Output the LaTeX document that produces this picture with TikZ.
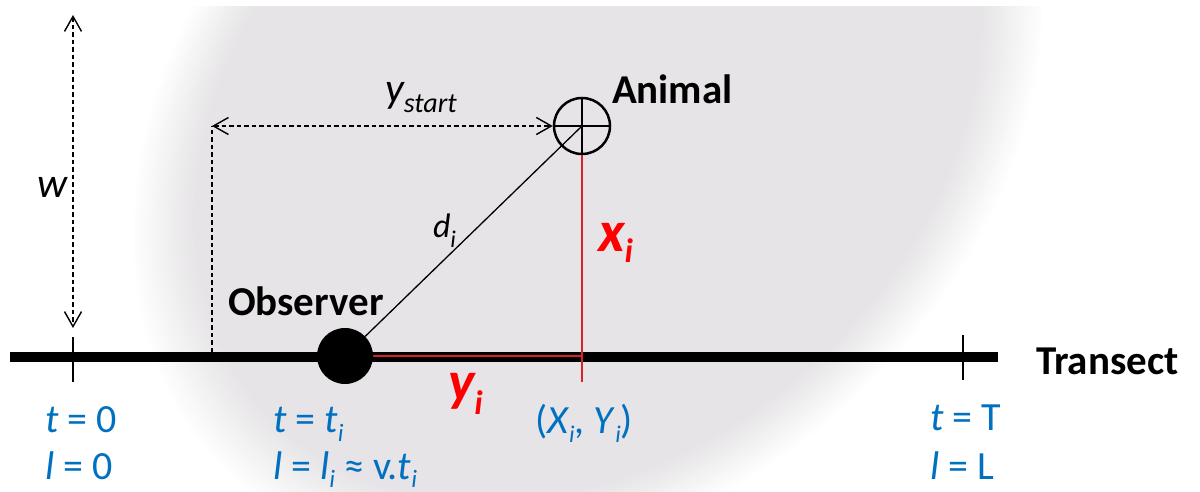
\documentclass[tikz,border=0pt]{standalone}
\usepackage{fontspec}
\setmainfont{Carlito}
\usetikzlibrary{arrows.meta}
\definecolor{gcol}{RGB}{230,228,230}
\definecolor{lblue}{RGB}{0,112,192}
\definecolor{lred}{RGB}{255,0,0}
\definecolor{rline}{RGB}{215,35,35}
\newcommand\fs[1]{\fontsize{#1}{#1}\selectfont}
\newcommand\sbx[3]{\raisebox{-#1pt}{\fs{#2}#3}}
\tikzset{
  lbl/.style={anchor=base west,inner sep=0pt,outer sep=0pt},
  bluelbl/.style={lbl,text=lblue,font=\fs{40}},
  boldlbl/.style={lbl,font=\fs{41}\bfseries},
  dashline/.style={line width=1.4pt,dash pattern=on 4.5pt off 3pt},
  barbtip/.tip={Straight Barb[length=15pt,width=17pt,line width=1.4pt]},
  tick/.style={line width=1.4pt},
}
\begin{document}
\begin{tikzpicture}[x=1pt,y=-1pt]
\useasboundingbox (0,0) rectangle (1200,492);
% gray blurred region
\begin{scope}
\clip (0,7) rectangle (1200,492);
\begin{scope}[cm={410,0,112,415,(588,118)}]
\foreach \i in {0,...,30}{
  \pgfmathsetmacro\s{1.075-0.15*\i/30}
  \pgfmathsetmacro\c{100*\i/30}
  \fill[gcol!\c!white] (0,0) circle ({\s});
}
\end{scope}
\end{scope}
% coordinates
\coordinate (tstart) at (10,357);
\coordinate (tend) at (998,357);
\coordinate (k1a) at (73,337); \coordinate (k1b) at (73,382);
\coordinate (k2a) at (963,335); \coordinate (k2b) at (963,380);
\coordinate (wtop) at (73,15); \coordinate (wbot) at (73,328);
\coordinate (ysb) at (212,352); \coordinate (yst) at (212,126);
\coordinate (xib) at (582,382);
\coordinate (XY) at (582,356);
% transect
\draw[line width=10pt] (tstart) -- (tend);
\draw[tick] (k1a) -- (k1b);
\draw[tick] (k2a) -- (k2b);
% w arrow
\draw[dashline,barbtip-barbtip] (wtop) -- (wbot);
% animal
\node[circle,draw,line width=2.5pt,minimum size=56pt,inner sep=0pt] (animal) at (582,126) {};
\draw[line width=2.5pt] (animal.north) -- (animal.south);
\draw[line width=2.5pt] (animal.west) -- (animal.east);
% observer
\node[circle,fill=black,minimum size=56pt,inner sep=0pt] (obs) at (345,356) {};
% ystart
\draw[dashline] (ysb) -- (yst);
\draw[dashline,barbtip-barbtip] (yst) -- (animal.west);
% d_i
\draw[line width=1.3pt] (obs) -- (animal.center);
% red lines
\draw[rline,line width=2pt] (animal.south) -- (xib);
\draw[rline,line width=2.5pt] (obs.east) -- (XY);
% labels
\node[lbl,font=\fs{42}\itshape] (wl) at (37,197) {w};
\node[lbl,font=\fs{42}\itshape] (ysl) at (385,103) {y\sbx{10}{28}{start}};
\node[boldlbl] (anl) at (612,104) {Animal};
\node[boldlbl] (obl) at (228,315) {Observer};
\node[lbl,font=\fs{34}\itshape] (dl) at (433,237) {d\sbx{10}{24}{i}};
\node[lbl,text=lred,font=\fs{58}\bfseries\itshape] (xl) at (598,251) {x\sbx{12}{34}{i}};
\node[lbl,text=lred,font=\fs{56}\bfseries\itshape] (yl) at (448,400) {y\sbx{14}{34}{i}};
\node[boldlbl] (trl) at (1036,374) {Transect};
\node[bluelbl] (t0) at (45,432) {\textit{t} = 0};
\node[bluelbl] (l0) at (45,479) {\textit{l} = 0};
\node[bluelbl] (ti) at (273,432) {\textit{t} = \textit{t}\sbx{9}{25}{\textit{i}}};
\node[bluelbl] (li) at (273,479) {\textit{l} = \textit{l}\sbx{8}{25}{\textit{i}} ≈ v.\textit{t}\sbx{8}{25}{\textit{i}}};
\node[bluelbl] (xy) at (535,433) {(\textit{X}\sbx{9}{24}{\textit{i}}, \textit{Y}\sbx{9}{24}{\textit{i}})};
\node[bluelbl] (tT) at (930,430) {\textit{t} = T};
\node[bluelbl] (lL) at (930,479) {\textit{l} = L};
\end{tikzpicture}
\end{document}
